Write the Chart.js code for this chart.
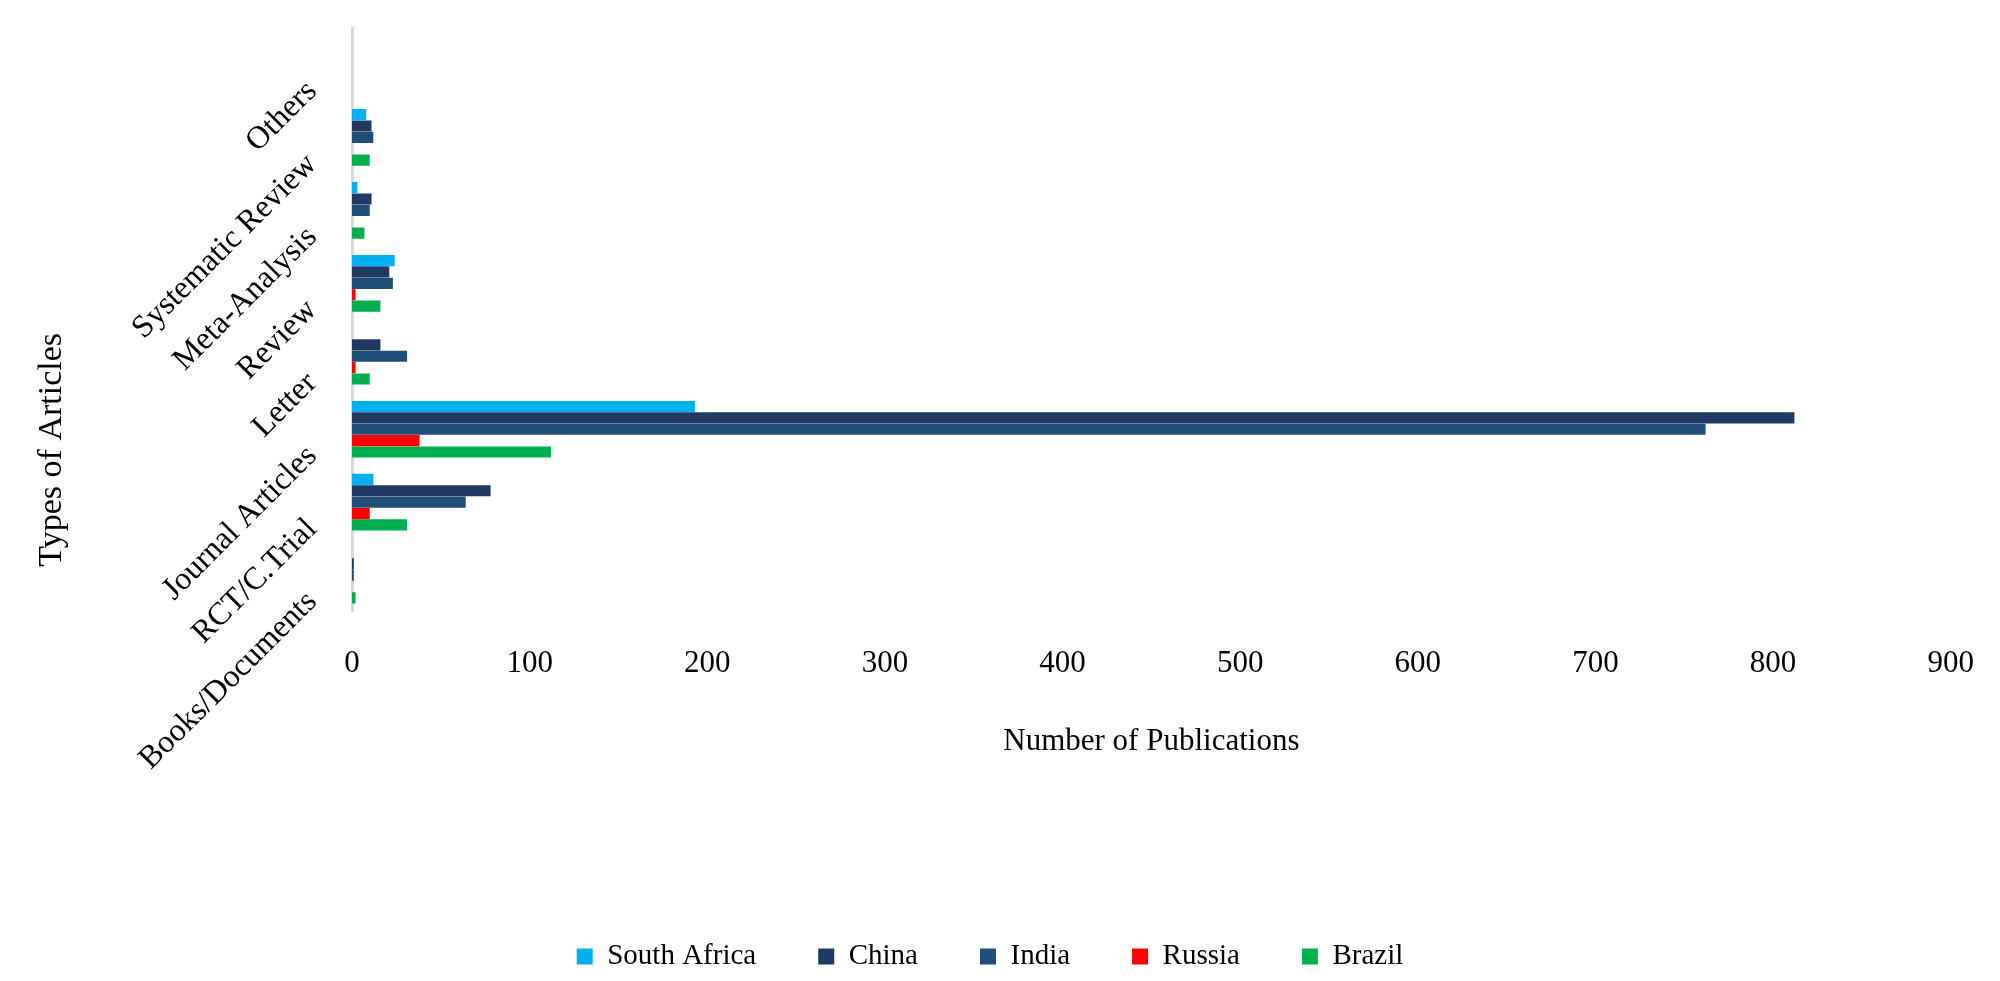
<!DOCTYPE html>
<html><head><meta charset="utf-8">
<script src="https://cdn.jsdelivr.net/npm/chart.js@4/dist/chart.umd.min.js"></script>
<style>html,body{margin:0;background:#fff}#wrap{width:2000px;height:981px}</style>
</head><body><div id="wrap"><canvas id="c"></canvas></div>
<script>
const categories = ['Others','Systematic Review','Meta-Analysis','Review','Letter','Journal Articles','RCT/C.Trial','Books/Documents'];
const southAfrica = [0, 8, 3, 24, 0, 193, 12, 0];
const china       = [0, 11, 11, 21, 16, 812, 78, 1];
const india       = [0, 12, 10, 23, 31, 762, 64, 1];
const russia      = [0, 0, 0, 2, 2, 38, 10, 0];
const brazil      = [0, 10, 7, 16, 10, 112, 31, 2];
const xTicks = [0,100,200,300,400,500,600,700,800,900];

const serif = '"Liberation Serif","DejaVu Serif",serif';
const ds = (label, data, color) => ({label, data, backgroundColor: color, categoryPercentage: 0.78, barPercentage: 0.98});

const rotatedLabels = {
  id: 'rotatedLabels',
  afterDraw(chart){
    const y = chart.scales.y, ctx = chart.ctx;
    ctx.save();
    ctx.font = '32px ' + serif; ctx.fillStyle = '#000';
    ctx.textAlign = 'right'; ctx.textBaseline = 'middle';
    categories.forEach((c,i)=>{
      const py = y.getPixelForValue(i);
      ctx.save(); ctx.translate(y.right - 40, py + 22); ctx.rotate(-Math.PI/4);
      ctx.fillText(c, 0, 0); ctx.restore();
    });
    ctx.translate(52, (y.top + y.bottom)/2 + 130); ctx.rotate(-Math.PI/2);
    ctx.textAlign = 'center'; ctx.font = '34px ' + serif;
    ctx.fillText('Types of Articles', 0, 0);
    ctx.restore();
  }
};

new Chart(document.getElementById('c'), {
  type: 'bar',
  data: {labels: categories, datasets: [
    ds('South Africa', southAfrica, '#00b0f0'),
    ds('China', china, '#203864'),
    ds('India', india, '#1f4e79'),
    ds('Russia', russia, '#ff0000'),
    ds('Brazil', brazil, '#00b050')
  ]},
  options: {
    indexAxis: 'y', responsive: true, maintainAspectRatio: false, animation: false,
    layout: {padding: {top: 28, right: 20, bottom: 0, left: 0}},
    plugins: {
      tooltip: {enabled: false},
      legend: {position: 'bottom', labels: {font: {family: serif, size: 29}, color: '#000', boxWidth: 16, boxHeight: 16, padding: 62}}
    },
    scales: {
      x: {min: 0, max: 900, afterBuildTicks: s => { s.ticks = xTicks.map(v => ({value: v})); },
          grid: {display: false}, border: {display: false},
          ticks: {font: {family: serif, size: 31}, color: '#000', padding: 26},
          title: {display: true, text: 'Number of Publications', font: {family: serif, size: 31}, color: '#000', padding: {top: 14, bottom: 120}}},
      y: {grid: {display: false}, border: {color: '#d9d9d9', width: 3},
          ticks: {display: false},
          afterFit: s => { s.width = 352; }}
    }
  },
  plugins: [rotatedLabels]
});
</script></body></html>
